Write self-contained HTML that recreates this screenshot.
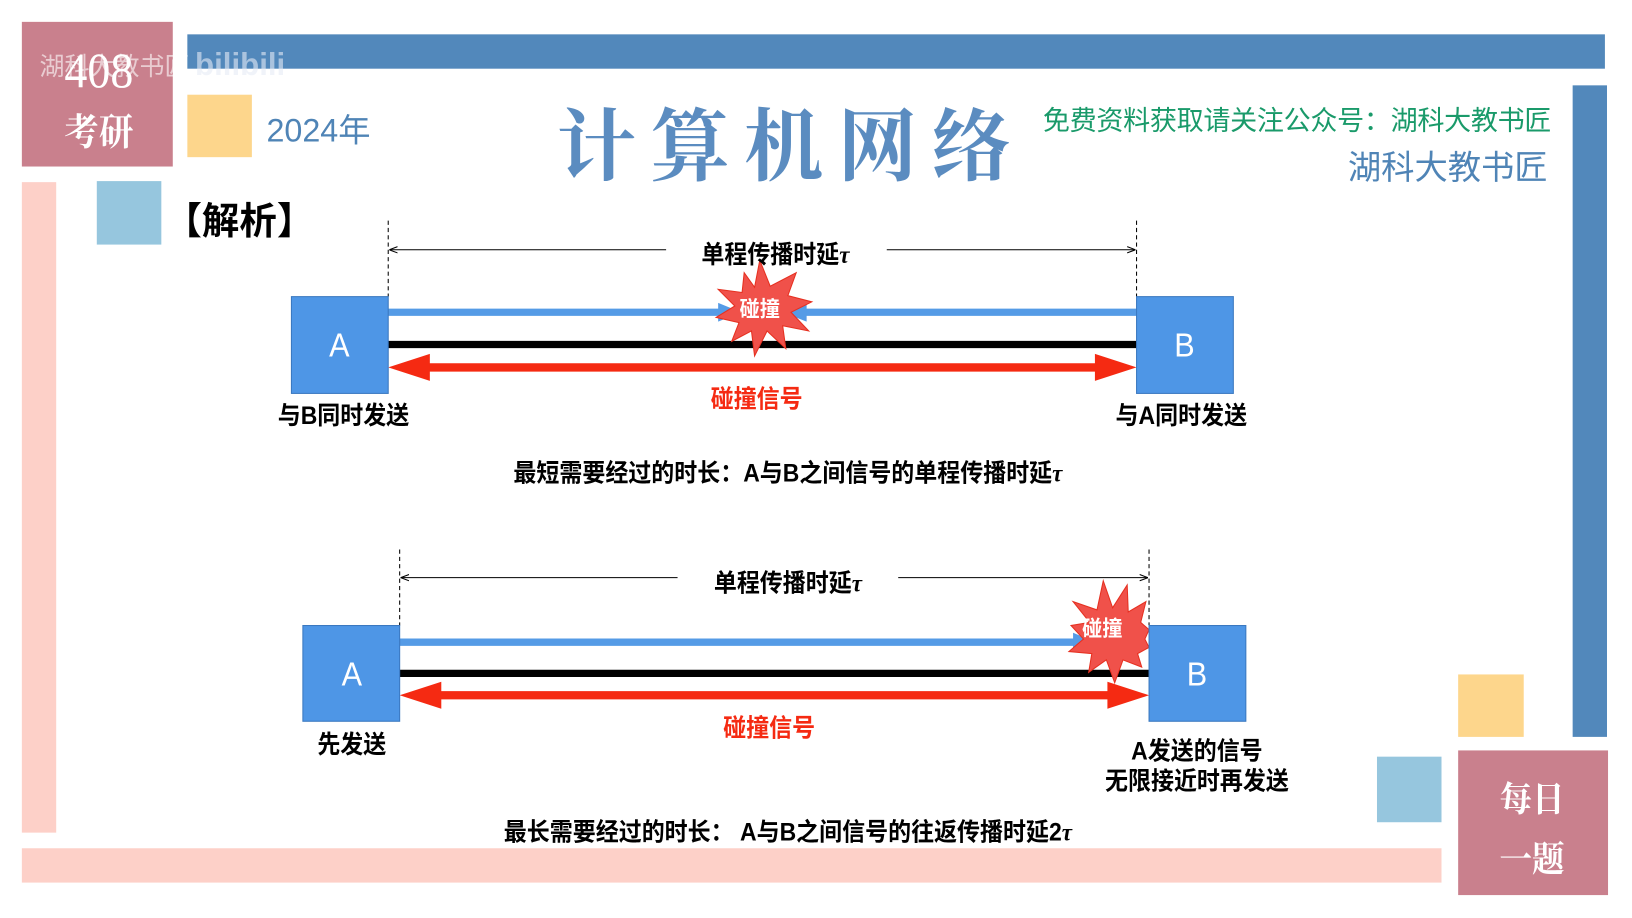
<!DOCTYPE html>
<html><head><meta charset="utf-8"><style>
html,body{margin:0;padding:0;width:1632px;height:918px;overflow:hidden;background:#fff}
#s{position:absolute;left:0;top:0;width:1568px;height:882px;transform:scale(1.0408);transform-origin:0 0;font-family:"Liberation Sans","Noto Sans CJK SC",sans-serif}
.a{position:absolute}
.t{position:absolute;white-space:nowrap;font-weight:bold;transform:translate(-50%,-50%) scaleX(0.92)}
</style></head><body><div id="s">
<div class="a" style="left:21px;top:21px;width:145px;height:139px;background:#c9808d"></div>
<div class="t" style="left:95px;top:68px;color:#fff;font:400 48px 'Liberation Serif',serif">408</div>
<div class="t" style="left:95px;top:125px;color:#fff;font:bold 36px 'Noto Serif CJK SC',serif">考研</div>
<div class="a" style="left:180px;top:33px;width:1362px;height:33px;background:#5288bb"></div>
<div class="a" style="left:38px;top:44px;color:rgba(255,255,255,.6);font:24px 'Noto Sans CJK SC',sans-serif;white-space:nowrap">湖科大教书匠 <b style="font:bold 30px 'Liberation Sans';color:rgba(230,235,245,.6)">bilibili</b></div>
<div class="a" style="left:180px;top:91px;width:62px;height:60px;background:#fdd68c"></div>
<div class="a" style="left:256px;top:100px;color:#4f84b6;font:31px 'Liberation Sans','Noto Sans CJK SC',sans-serif">2024年</div>
<div class="a" style="left:535px;top:80px;color:#5b8cc0;font:bold 76px 'Noto Serif CJK SC',serif;letter-spacing:14px;white-space:nowrap">计算机网络</div>
<div class="a" style="left:1002px;top:96px;color:#1a9a6a;font:26px 'Noto Sans CJK SC',sans-serif;white-space:nowrap;letter-spacing:-0.3px">免费资料获取请关注公众号：湖科大教书匠</div>
<div class="a" style="left:1295px;top:136px;color:#4f84b6;font:32px 'Noto Sans CJK SC',sans-serif;white-space:nowrap">湖科大教书匠</div>
<div class="a" style="left:1511px;top:82px;width:33px;height:626px;background:#5288bb"></div>
<div class="a" style="left:21px;top:175px;width:33px;height:625px;background:#fdd0c8"></div>
<div class="a" style="left:93px;top:174px;width:62px;height:61px;background:#96c6de"></div>
<div class="a" style="left:158px;top:184px;color:#000;font:bold 36px 'Noto Sans CJK SC',sans-serif;white-space:nowrap">【解析】</div>
<div class="a" style="left:21px;top:815px;width:1364px;height:33px;background:#fdd0c8"></div>
<div class="a" style="left:1323px;top:727px;width:62px;height:63px;background:#96c6de"></div>
<div class="a" style="left:1401px;top:648px;width:63px;height:60px;background:#fdd68c"></div>
<div class="a" style="left:1401px;top:721px;width:144px;height:139px;background:#c9808d"></div>
<div class="t" style="left:1472px;top:765px;color:#fff;font:bold 34px 'Noto Serif CJK SC',serif">每日</div>
<div class="t" style="left:1472px;top:823px;color:#fff;font:bold 34px 'Noto Serif CJK SC',serif">一题</div>

<svg class="a" style="left:0;top:0" width="1568" height="882">
<defs>
<marker id="sa" markerWidth="8" markerHeight="8" refX="8" refY="4" orient="auto-start-reverse" markerUnits="userSpaceOnUse"><path d="M0,1 L8,4 L0,7" fill="none" stroke="#000" stroke-width="1"/></marker>
</defs>
<g id="d1">
<line x1="373" y1="212" x2="373" y2="285" stroke="#000" stroke-dasharray="4,3"/>
<line x1="1092" y1="212" x2="1092" y2="285" stroke="#000" stroke-dasharray="4,3"/>
<line x1="374" y1="240" x2="640" y2="240" stroke="#000" marker-start="url(#sa)"/>
<line x1="852" y1="240" x2="1091" y2="240" stroke="#000" marker-end="url(#sa)"/>
<line x1="373" y1="300" x2="700" y2="300" stroke="#559be6" stroke-width="7"/>
<path d="M690,291 L712,300 L690,309Z" fill="#559be6"/>
<line x1="765" y1="300" x2="1092" y2="300" stroke="#559be6" stroke-width="7"/>
<path d="M775,291 L752,300 L775,309Z" fill="#559be6"/>
<line x1="373" y1="331" x2="1092" y2="331" stroke="#000" stroke-width="7"/>
<line x1="410" y1="353" x2="1055" y2="353" stroke="#f52a12" stroke-width="8"/>
<path d="M373,353 L413,340 L413,366Z M1092,353 L1052,340 L1052,366Z" fill="#f52a12"/>
<polygon points="730,250 740,275 765,262 757,284 780,290 760,300 777,318 752,313 755,335 737,318 725,342 722,318 703,328 710,310 688,305 706,294 690,278 713,281 715,262 725,276" fill="#f0514a" stroke="#e63020" stroke-width="1"/>
<rect x="280" y="285" width="93" height="93" fill="#4e96e6" stroke="#3a78c0"/>
<rect x="1092" y="285" width="93" height="93" fill="#4e96e6" stroke="#3a78c0"/>
</g>
<g transform="translate(11,316)">
<line x1="373" y1="212" x2="373" y2="285" stroke="#000" stroke-dasharray="4,3"/>
<line x1="1093" y1="212" x2="1093" y2="285" stroke="#000" stroke-dasharray="4,3"/>
<line x1="374" y1="239" x2="640" y2="239" stroke="#000" marker-start="url(#sa)"/>
<line x1="852" y1="239" x2="1092" y2="239" stroke="#000" marker-end="url(#sa)"/>
<line x1="373" y1="301" x2="1030" y2="301" stroke="#559be6" stroke-width="7"/>
<path d="M1020,292 L1042,301 L1020,310Z" fill="#559be6"/>
<line x1="373" y1="331" x2="1093" y2="331" stroke="#000" stroke-width="7"/>
<line x1="410" y1="352" x2="1056" y2="352" stroke="#f52a12" stroke-width="8"/>
<path d="M373,352 L413,339 L413,365Z M1093,352 L1053,339 L1053,365Z" fill="#f52a12"/>
<polygon points="1049,242 1058,268 1072,246 1073,272 1090,262 1085,282 1093,289 1089,298 1093,306 1082,312 1086,325 1068,318 1060,340 1052,318 1035,330 1038,312 1016,310 1030,298 1018,285 1036,282 1020,262 1043,270" fill="#f0514a" stroke="#e63020" stroke-width="1"/>
<rect x="280" y="285" width="93" height="92" fill="#4e96e6" stroke="#3a78c0"/>
<rect x="1093" y="285" width="93" height="92" fill="#4e96e6" stroke="#3a78c0"/>
</g>
</svg>
<div class="t" style="left:745px;top:242px;font-size:24px">单程传播时延<i style="font-family:'Liberation Serif'">τ</i></div>
<div class="t" style="left:730px;top:296px;font-size:21px;color:#fff">碰撞</div>
<div class="t" style="left:326px;top:332px;font-size:32px;color:#fff;font-weight:normal">A</div>
<div class="t" style="left:1138px;top:332px;font-size:32px;color:#fff;font-weight:normal">B</div>
<div class="t" style="left:727px;top:381px;font-size:24px;color:#f52a12">碰撞信号</div>
<div class="t" style="left:330px;top:397px;font-size:24px">与B同时发送</div>
<div class="t" style="left:1135px;top:397px;font-size:24px">与A同时发送</div>
<div class="t" style="left:757px;top:452px;font-size:24px">最短需要经过的时长：A与B之间信号的单程传播时延<i style="font-family:'Liberation Serif'">τ</i></div>

<div class="t" style="left:757px;top:558px;font-size:24px">单程传播时延<i style="font-family:'Liberation Serif'">τ</i></div>
<div class="t" style="left:1059px;top:603px;font-size:21px;color:#fff">碰撞</div>
<div class="t" style="left:338px;top:648px;font-size:32px;color:#fff;font-weight:normal">A</div>
<div class="t" style="left:1150px;top:648px;font-size:32px;color:#fff;font-weight:normal">B</div>
<div class="t" style="left:739px;top:697px;font-size:24px;color:#f52a12">碰撞信号</div>
<div class="t" style="left:338px;top:713px;font-size:24px">先发送</div>
<div class="t" style="left:1150px;top:719px;font-size:24px">A发送的信号</div>
<div class="t" style="left:1150px;top:748px;font-size:24px">无限接近时再发送</div>
<div class="t" style="left:757px;top:797px;font-size:24px">最长需要经过的时长： A与B之间信号的往返传播时延2<i style="font-family:'Liberation Serif'">τ</i></div>
</div></body></html>
